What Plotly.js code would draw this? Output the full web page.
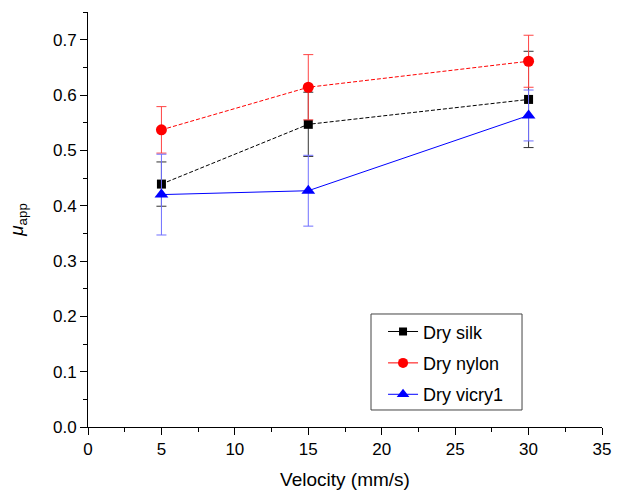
<!DOCTYPE html>
<html>
<head>
<meta charset="utf-8">
<script src="https://cdn.plot.ly/plotly-3.0.1.min.js"></script>
<style>html,body{margin:0;padding:0;background:#fff}#chart{width:620px;height:490px}</style>
</head>
<body>
<div id="chart"></div>
<script>
const velocity = [5, 15, 30];
const silk = [0.439, 0.547, 0.592];
const silkErr = [0.040, 0.058, 0.087];
const nylon = [0.537, 0.614, 0.661];
const nylonErr = [0.042, 0.059, 0.047];
const vicryl = [0.420, 0.427, 0.563];
const vicrylErr = [0.073, 0.064, 0.046];
const names = ["Dry silk", "Dry nylon", "Dry vicry1"];
const colors = ['#000000', '#ff0000', '#0000ff'];
const symbols = ['square', 'circle', 'triangle-up'];
const sizes = [9, 11, 12];

const traces = [
  {x: velocity, y: silk, name: names[0], type: 'scatter', mode: 'lines+markers', showlegend: false,
   line: {color: colors[0], width: 1, dash: '4px,2px'},
   marker: {symbol: symbols[0], size: sizes[0], color: colors[0]},
   error_y: {type: 'data', array: silkErr, visible: true, color: '#333', thickness: 1, width: 5}},
  {x: velocity, y: nylon, name: names[1], type: 'scatter', mode: 'lines+markers', showlegend: false,
   line: {color: colors[1], width: 1, dash: '4px,2px'},
   marker: {symbol: symbols[1], size: sizes[1], color: colors[1]},
   error_y: {type: 'data', array: nylonErr, visible: true, color: '#ff4444', thickness: 1, width: 5}},
  {x: velocity, y: vicryl, name: names[2], type: 'scatter', mode: 'lines+markers', showlegend: false,
   line: {color: colors[2], width: 1},
   marker: {symbol: symbols[2], size: sizes[2], color: colors[2]},
   error_y: {type: 'data', array: vicrylErr, visible: true, color: '#6f6fff', thickness: 1, width: 5}}
];
// legend entries with solid lines (as in the reference legend)
for (let i = 0; i < names.length; i++) {
  traces.push({x: [null], y: [null], name: names[i], legendgroup: 'g' + i, type: 'scatter', mode: 'lines+markers',
    line: {color: colors[i], width: 1}, marker: {symbol: symbols[i], size: sizes[i] - 1, color: colors[i]}});
}

const layout = {
  width: 620, height: 490,
  margin: {l: 88, r: 18, t: 12, b: 63},
  paper_bgcolor: '#fff', plot_bgcolor: '#fff',
  font: {family: 'Liberation Sans, Arial, sans-serif', size: 17, color: '#000'},
  showlegend: true,
  legend: {x: 0.574, y: 0.274, xanchor: 'left', yanchor: 'top',
           borderwidth: 0, bgcolor: 'rgba(0,0,0,0)',
           font: {size: 18}, itemwidth: 30, tracegroupgap: 5},
  shapes: [{type: 'rect', xref: 'paper', yref: 'paper', x0: 0.5506, x1: 0.8444, y0: 0.041, y1: 0.2723,
            line: {color: '#444', width: 1}, fillcolor: 'rgba(0,0,0,0)', layer: 'above'}],
  xaxis: {range: [0, 35], dtick: 5, tick0: 0, showgrid: false, zeroline: false,
          showline: true, linecolor: '#000', linewidth: 1,
          ticks: 'outside', ticklen: 7, tickcolor: '#000',
          tickfont: {size: 17},
          minor: {dtick: 2.5, ticks: 'outside', ticklen: 4, tickcolor: '#000'},
          title: {text: 'Velocity (mm/s)', standoff: 14, font: {size: 19}}},
  yaxis: {range: [0, 0.75], dtick: 0.1, tick0: 0, tickformat: '.1f', showgrid: false, zeroline: false,
          showline: true, linecolor: '#000', linewidth: 1,
          ticks: 'outside', ticklen: 7, tickcolor: '#000',
          tickfont: {size: 17},
          minor: {dtick: 0.05, ticks: 'outside', ticklen: 4, tickcolor: '#000'},
          title: {text: '<i>μ</i><sub>app</sub>', standoff: 24, font: {size: 19}}}
};

Plotly.newPlot('chart', traces, layout, {displayModeBar: false, staticPlot: true});
</script>
</body>
</html>
